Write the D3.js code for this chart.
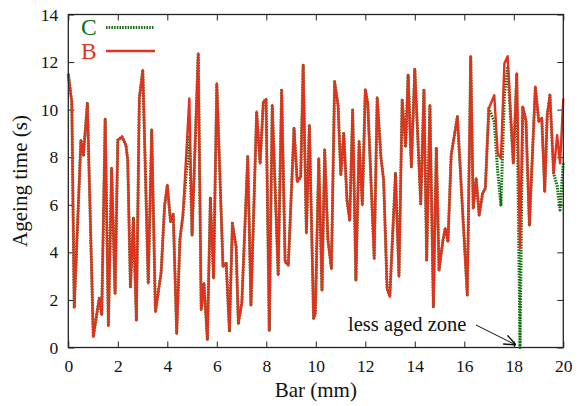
<!DOCTYPE html>
<html>
<head>
<meta charset="utf-8">
<script src="https://cdn.jsdelivr.net/npm/d3@7"></script>
<style>
  body { margin: 0; background: #fff; }
  svg text { font-family: "Liberation Serif", "DejaVu Serif", serif; }
</style>
</head>
<body>
<div id="chart"></div>
<script>

// positions along the bar (mm)
var barPos = [0.00, 0.14, 0.24, 0.51, 0.61, 0.77, 1.01, 1.25, 1.35, 1.49,
  1.62, 1.75, 1.89, 2.00, 2.17, 2.33, 2.40, 2.51, 2.63, 2.75,
  2.87, 3.01, 3.23, 3.37, 3.52, 3.75, 3.89, 4.00, 4.13, 4.24,
  4.38, 4.51, 4.63, 4.89, 5.00, 5.25, 5.37, 5.48, 5.62, 5.74,
  5.87, 6.00, 6.25, 6.38, 6.51, 6.63, 6.78, 6.87, 7.01, 7.25,
  7.38, 7.61, 7.75, 7.88, 7.99, 8.12, 8.24, 8.48, 8.62, 8.76,
  8.89, 9.12, 9.25, 9.39, 9.49, 9.62, 9.74, 9.91, 9.98, 10.12,
  10.25, 10.36, 10.49, 10.63, 10.76, 10.90, 11.01, 11.13, 11.26, 11.37,
  11.49, 11.62, 11.75, 11.88, 12.00, 12.10, 12.36, 12.48, 12.63, 12.74,
  12.88, 12.99, 13.22, 13.36, 13.49, 13.63, 13.73, 13.86, 14.00, 14.24,
  14.37, 14.48, 14.61, 14.75, 14.87, 14.98, 15.14, 15.23, 15.34, 15.47,
  15.72, 16.12, 16.26, 16.36, 16.48, 16.60, 16.74, 16.85, 16.99, 17.21,
  17.35, 17.48, 17.62, 17.75, 17.98, 18.12, 18.25, 18.36, 18.49, 18.63,
  18.87, 19.01, 19.13, 19.25, 19.35, 19.46, 19.61, 19.75, 19.87, 20.00];

// ageing time, series B (s)
var ageB = [11.5, 10.33, 1.68, 8.72, 8.09, 10.26, 0.45, 2.07, 1.37, 9.6,
  0.9, 7.53, 2.28, 8.72, 8.86, 8.5, 7.88, 2.55, 5.43, 1.16,
  10.47, 11.66, 2.7, 9.14, 1.5, 3.15, 5.95, 6.83, 5.3, 5.6,
  0.6, 4.55, 5.55, 10.47, 4.73, 12.36, 1.58, 2.7, 0.32, 6.27,
  2.91, 11.1, 3.4, 3.54, 0.7, 5.22, 4.24, 1.02, 1.86, 8.02,
  1.79, 9.91, 7.74, 10.33, 10.43, 0.73, 10.19, 3.05, 10.82, 3.61,
  3.47, 9.21, 6.97, 7.18, 11.87, 4.8, 9.35, 1.23, 1.44, 7.95,
  2.42, 8.3, 4.52, 3.33, 11.17, 10.19, 7.25, 9.0, 6.2, 5.36,
  9.98, 2.84, 8.65, 5.99, 10.85, 10.26, 3.75, 10.51, 8.02, 7.04,
  2.49, 2.14, 7.32, 2.98, 10.4, 8.47, 11.45, 7.6, 11.69, 6.04,
  10.82, 3.68, 10.19, 1.71, 8.37, 3.26, 4.52, 5.01, 4.45, 8.09,
  9.7, 2.21, 12.22, 5.85, 7.11, 5.57, 6.48, 6.69, 10.05, 10.61,
  8.16, 7.95, 11.94, 12.25, 7.74, 11.52, 4.17, 10.12, 9.56, 5.15,
  10.96, 9.49, 9.63, 6.55, 9.77, 10.61, 7.32, 8.93, 7.74, 10.47];

// ageing time, series C (s)
var ageC = [11.5, 10.33, 1.68, 8.72, 8.09, 10.26, 0.45, 2.07, 1.37, 9.6,
  0.9, 7.53, 2.28, 8.72, 8.86, 8.5, 7.88, 2.55, 5.43, 1.16,
  10.47, 11.66, 2.7, 9.14, 1.5, 3.15, 5.95, 6.83, 5.3, 5.6,
  0.6, 4.55, 5.55, 8.9, 4.73, 12.36, 1.58, 2.7, 0.32, 6.27,
  2.91, 11.1, 3.4, 3.54, 0.7, 5.22, 4.24, 1.02, 1.86, 8.02,
  1.79, 9.91, 7.74, 10.33, 10.43, 0.73, 10.19, 3.05, 10.82, 3.61,
  3.47, 9.21, 6.97, 7.18, 11.87, 4.8, 9.35, 1.23, 1.44, 7.95,
  2.42, 8.3, 4.52, 3.33, 11.17, 10.19, 7.25, 9.0, 6.2, 5.36,
  9.98, 2.84, 8.65, 5.99, 10.85, 10.26, 3.75, 10.51, 8.02, 7.04,
  2.49, 2.14, 7.32, 2.98, 10.4, 8.47, 11.45, 7.6, 11.69, 6.04,
  10.82, 3.68, 10.19, 1.71, 8.37, 3.26, 4.52, 5.01, 4.45, 8.09,
  9.7, 2.21, 12.22, 5.85, 7.11, 5.57, 6.48, 6.69, 10.05, 9.49,
  7.4, 5.99, 10.6, 11.8, 7.74, 11.52, 0.0, 10.12, 9.56, 5.15,
  10.96, 9.49, 9.63, 6.55, 9.77, 10.61, 7.32, 6.8, 5.78, 7.8];

var xTicks = [0, 2, 4, 6, 8, 10, 12, 14, 16, 18, 20];
var yTicks = [0, 2, 4, 6, 8, 10, 12, 14];

var W = 580, H = 406;
var margin = {left: 68.3, right: 16.7, top: 14.5, bottom: 58.5};
var w = W - margin.left - margin.right, h = H - margin.top - margin.bottom;

var red = "#e2321f", green = "#0a6e0a";

var svg = d3.select("#chart").append("svg")
  .attr("width", W).attr("height", H);

var g = svg.append("g")
  .attr("transform", "translate(" + margin.left + "," + margin.top + ")");

var x = d3.scaleLinear().domain([0, 20]).range([0, w]);
var y = d3.scaleLinear().domain([0, 14]).range([h, 0]);

// axes, ticks pointing inward on all four sides
g.append("g").attr("transform", "translate(0," + h + ")")
  .call(d3.axisBottom(x).tickValues(xTicks).tickSize(-6).tickPadding(12))
  .call(function(a){ a.select(".domain").remove(); });
g.append("g")
  .call(d3.axisTop(x).tickValues(xTicks).tickSize(-6).tickFormat(""))
  .call(function(a){ a.select(".domain").remove(); });
g.append("g")
  .call(d3.axisLeft(y).tickValues(yTicks).tickSize(-6).tickPadding(10))
  .call(function(a){ a.select(".domain").remove(); });
g.append("g").attr("transform", "translate(" + w + ",0)")
  .call(d3.axisRight(y).tickValues(yTicks).tickSize(-6).tickFormat(""))
  .call(function(a){ a.select(".domain").remove(); });

g.selectAll(".tick line").attr("stroke", "#222").attr("stroke-width", 1);
g.selectAll(".tick text").style("font-size", "17.5px").attr("fill", "#111");

var line = d3.line()
  .x(function(d){ return x(d[0]); })
  .y(function(d){ return y(d[1]); });

var dataC = barPos.map(function(p, i){ return [p, ageC[i]]; });
var dataB = barPos.map(function(p, i){ return [p, ageB[i]]; });

g.append("path").datum(dataC)
  .attr("d", line)
  .attr("fill", "none")
  .attr("stroke", green)
  .attr("stroke-width", 3)
  .attr("stroke-dasharray", "1.5,1.2")
  .attr("stroke-linejoin", "round");

g.append("path").datum(dataB)
  .attr("d", line)
  .attr("fill", "none")
  .attr("stroke", red)
  .attr("stroke-width", 2.4)
  .attr("stroke-linejoin", "round");

// frame
g.append("rect").attr("width", w).attr("height", h)
  .attr("fill", "none").attr("stroke", "#222").attr("stroke-width", 1.3);

// legend
var leg = svg.append("g");
leg.append("text").attr("x", 81).attr("y", 35).text("C")
  .style("font-size", "23.5px").attr("fill", green);
leg.append("line").attr("x1", 106).attr("x2", 154).attr("y1", 27.5).attr("y2", 27.5)
  .attr("stroke", green).attr("stroke-width", 3).attr("stroke-dasharray", "1.5,1.2");
leg.append("text").attr("x", 81).attr("y", 58.5).text("B")
  .style("font-size", "23.5px").attr("fill", red);
leg.append("line").attr("x1", 106).attr("x2", 155).attr("y1", 51).attr("y2", 51)
  .attr("stroke", red).attr("stroke-width", 2.4);

// annotation
svg.append("defs").append("marker")
  .attr("id", "arr").attr("viewBox", "0 0 10 10").attr("refX", 10).attr("refY", 5)
  .attr("markerWidth", 12).attr("markerHeight", 12).attr("orient", "auto")
  .attr("markerUnits", "userSpaceOnUse")
  .append("path").attr("d", "M0,1 L10,5 L0,9").attr("fill", "none")
  .attr("stroke", "#111").attr("stroke-width", 1.2);

svg.append("text").attr("x", 348).attr("y", 331).text("less aged zone")
  .style("font-size", "20.5px").attr("fill", "#111");
svg.append("line").attr("x1", 476).attr("y1", 325).attr("x2", 516).attr("y2", 345)
  .attr("stroke", "#111").attr("stroke-width", 1).attr("marker-end", "url(#arr)");

// axis titles
svg.append("text").attr("x", margin.left + w / 2).attr("y", 397)
  .attr("text-anchor", "middle").text("Bar (mm)")
  .style("font-size", "21px").attr("fill", "#111");
svg.append("text")
  .attr("transform", "translate(27," + (margin.top + h / 2) + ") rotate(-90)")
  .attr("text-anchor", "middle").text("Ageing time (s)")
  .style("font-size", "21px").attr("fill", "#111");

</script>
</body>
</html>
